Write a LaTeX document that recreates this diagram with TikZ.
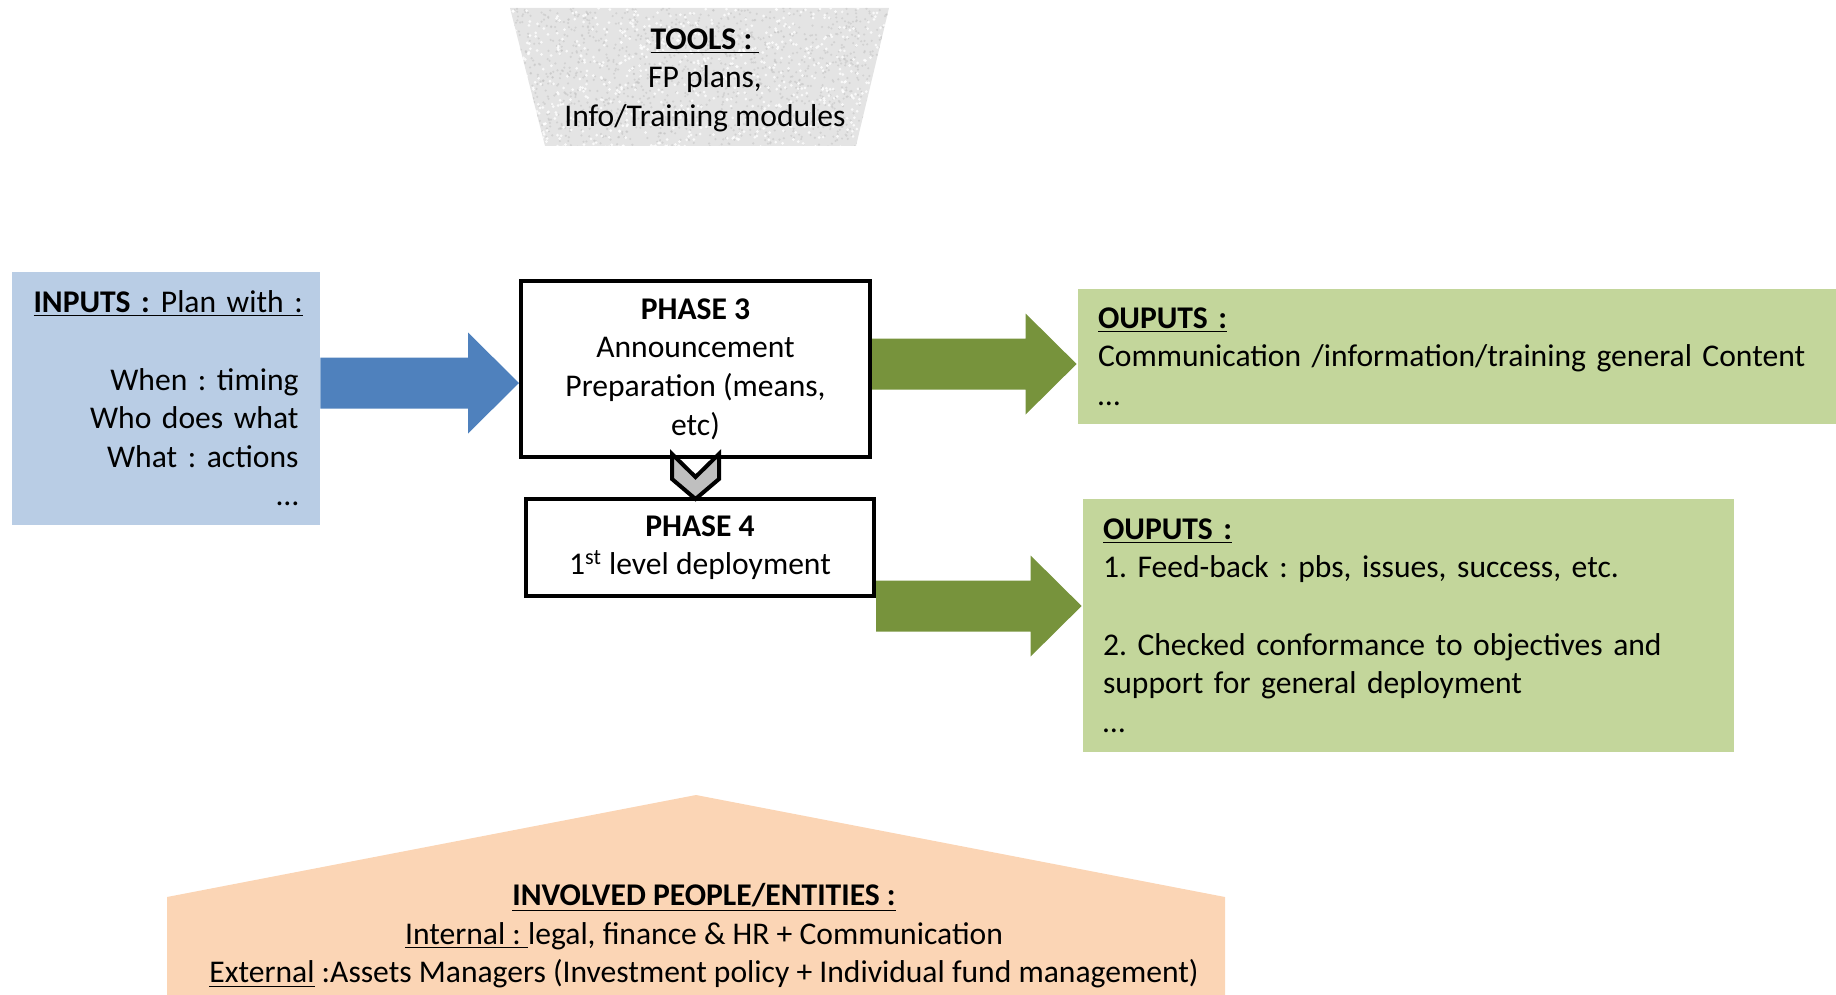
\documentclass[tikz,border=0pt]{standalone}
\usepackage{fontspec}
\setmainfont{Carlito}
\frenchspacing
\usetikzlibrary{calc,backgrounds}

\definecolor{inblue}{HTML}{B9CDE5}
\definecolor{arrblue}{HTML}{4F81BD}
\definecolor{outgreen}{HTML}{C3D69B}
\definecolor{arrgreen}{HTML}{77933C}
\definecolor{peachy}{HTML}{FBD5B5}
\definecolor{toolgray}{HTML}{E4E4E4}

% fat block arrow: colour, start, tip
\newcommand{\fatarrow}[3]{%
\fill[#1] ($(#2)+(0,-25.5)$) -- ($(#3)+(-51,-25.5)$) -- ($(#3)+(-51,-50.5)$) -- (#3)
  -- ($(#3)+(-51,50.5)$) -- ($(#3)+(-51,25.5)$) -- ($(#2)+(0,25.5)$) -- cycle;}

\begin{document}
\begin{tikzpicture}[x=0.5pt,y=-0.5pt,
  every node/.append style={font=\fontsize{15.8}{19.3}\selectfont, inner sep=0pt},
  phasebox/.style={draw, line width=2pt, fill=white, align=center},
  outbox/.style={fill=outgreen, align=left, inner xsep=10pt}]

\useasboundingbox (0,0) rectangle (1836,995);

% tools
\fill[toolgray] (510,8) -- (889,8) -- (856,146) -- (545,146) -- cycle;
\begin{scope}
\clip (510,8) -- (889,8) -- (856,146) -- (545,146) -- cycle;
\pgfmathsetseed{11}
\foreach \i in {1,...,1400}
  \fill[gray!45, opacity=0.6] ({510+380*rnd},{8+140*rnd}) circle (1.2);
\foreach \i in {1,...,700}
  \fill[white, opacity=0.8] ({510+380*rnd},{8+140*rnd}) circle (1.5);
\end{scope}
\node[align=center] (tools) at (705,80)
  {\underline{\textbf{TOOLS :}\ }\\FP plans,\\Info/Training modules};

% inputs
\node[fill=inblue, minimum width=154pt, minimum height=126.5pt,
  text width=132.5pt, align=right] (inputs) at (166,398.5)
  {\underline{\textbf{INPUTS :}\hspace{0.35em}Plan with :}\\[19.3pt]
   When : timing\\Who does what\\What : actions\\\dots};

% phases
\node[phasebox, minimum width=174.5pt, minimum height=88pt] (p3) at (695.5,369)
  {\textbf{PHASE 3}\\Announcement\\Preparation (means,\\etc)};
\node[phasebox, minimum width=174pt, minimum height=48.5pt] (p4) at (700,547.5)
  {\textbf{PHASE 4}\\1\textsuperscript{st} level deployment};

% outputs
\node[outbox, minimum width=379pt, minimum height=67.5pt, text width=359pt] (out1) at (1457,356.5)
  {\underline{\textbf{OUPUTS :}}\\Communication /information/training general Content\\\dots};
\node[outbox, minimum width=325.5pt, minimum height=126.5pt, text width=305.5pt] (out2) at (1408.5,625.5)
  {\underline{\textbf{OUPUTS :}}\\1. Feed-back : pbs, issues, success, etc.\\[19.3pt]
   2. Checked conformance to objectives and\\support for general deployment\\\dots};

% arrows
\coordinate (a1s) at (inputs.east |- 0,383);
\coordinate (a1e) at (p3.west |- 0,383);
\coordinate (a2s) at (p3.east |- 0,364);
\coordinate (a2e) at ($(out1.west |- 0,364)+(-1,0)$);
\coordinate (a3s) at (p4.east |- 0,606);
\coordinate (a3e) at ($(out2.west |- 0,606)+(-1,0)$);
\begin{pgfonlayer}{background}
\fatarrow{arrblue}{a1s}{a1e}
\fatarrow{arrgreen}{a2s}{a2e}
\fatarrow{arrgreen}{a3s}{a3e}
\end{pgfonlayer}

% chevron p3 -> p4
\coordinate (chev) at (p3.south);
\draw[line width=2pt, fill=black!25, miter limit=10]
  ($(chev)+(-23.5,-5)$) -- ($(chev)+(0,18)$) -- ($(chev)+(23.5,-5)$)
  -- ($(chev)+(23.5,20)$) -- ($(chev)+(0,40)$) -- ($(chev)+(-23.5,20)$) -- cycle;

% people
\fill[peachy] (167,897) -- (696,795) -- (1225,897) -- (1225,995) -- (167,995) -- cycle;
\node[align=center] (people) at (704,936)
  {\underline{\textbf{INVOLVED PEOPLE/ENTITIES :}}\\
   \underline{Internal :\ }legal, finance \& HR + Communication\\
   \underline{External} :Assets Managers (Investment policy + Individual fund management)};

\end{tikzpicture}
\end{document}
